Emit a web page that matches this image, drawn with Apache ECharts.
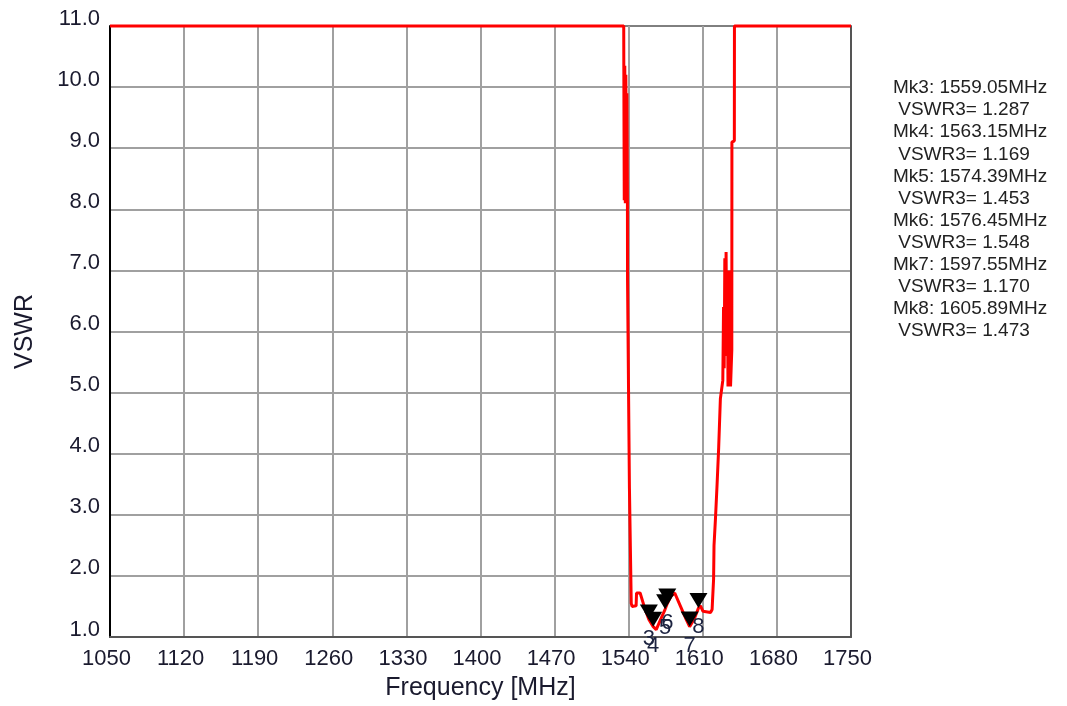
<!DOCTYPE html>
<html>
<head>
<meta charset="utf-8">
<script src="https://cdn.jsdelivr.net/npm/echarts@6/dist/echarts.min.js"></script>
<style>
html,body{margin:0;padding:0;background:#fff;}
#chart{width:1067px;height:706px;}
</style>
</head>
<body>
<div id="chart"></div>
<script>
// ---- data ----
const freqMHz = [
  1050, 1535.3, 1535.4, 1535.8, 1536.3, 1536.8, 1537.3, 1537.8, 1538.3, 1538.8,
  1538.9, 1540.5, 1540.7, 1542.2, 1542.4, 1543.2, 1547.0, 1547.4, 1550.8, 1555.0,
  1559.05, 1563.15, 1566.0, 1570.0, 1574.39, 1576.45, 1580.0, 1583.5, 1587.0, 1591.0,
  1594.5, 1597.55, 1599.0, 1602.0, 1605.89, 1607.8, 1610.2, 1617.3, 1618.8, 1619.2,
  1620.2, 1620.6, 1622.0, 1623.5, 1625.0, 1626.6, 1628.9, 1629.6, 1630.2, 1630.8,
  1631.4, 1632.0, 1632.6, 1633.2, 1633.8, 1634.4, 1635.0, 1635.6, 1636.2, 1636.8,
  1637.4, 1637.5, 1639.8, 1639.9, 1750
];
const vswr = [
  11, 11, 10.3, 8.15, 10.35, 8.1, 10.2, 8.2, 9.9, 8.1,
  6.84, 6.82, 3.43, 3.40, 1.55, 1.50, 1.51, 1.72, 1.72, 1.48,
  1.287, 1.169, 1.12, 1.28, 1.453, 1.548, 1.67, 1.72, 1.58, 1.42,
  1.28, 1.17, 1.18, 1.30, 1.473, 1.51, 1.42, 1.40, 1.45, 1.60,
  1.95, 2.5, 2.95, 3.5, 4.1, 4.9, 5.2, 6.4, 5.4, 7.2,
  5.6, 7.3, 5.6, 7.0, 5.1, 6.8, 5.3, 7.0, 5.1, 5.4,
  5.7, 9.1, 9.12, 11, 11
];
const markerIds = ['3', '4', '5', '6', '7', '8'];
const markerFreqMHz = [1559.05, 1563.15, 1574.39, 1576.45, 1597.55, 1605.89];
const markerVswr = [1.287, 1.169, 1.453, 1.548, 1.170, 1.473];
const xMin = 1050, xMax = 1750, xStep = 70;
const yMin = 1, yMax = 11, yStep = 1;

// ---- chart ----
const FONT = 'Liberation Sans, Arial, sans-serif';
const TXT = '#1a1a2e';
const chart = echarts.init(document.getElementById('chart'), null, {renderer: 'canvas'});

const legendText = markerIds.map((id, i) =>
  'Mk' + id + ': ' + markerFreqMHz[i].toFixed(2) + 'MHz\n VSWR3= ' + markerVswr[i].toFixed(3)
).join('\n');

const option = {
  animation: false,
  backgroundColor: '#fff',
  grid: {
    left: 110, right: 216, top: 26, bottom: 69,
    show: true, borderColor: '#000', borderWidth: 1, backgroundColor: '#fff'
  },
  xAxis: {
    type: 'value', min: xMin, max: xMax, interval: xStep,
    name: 'Frequency [MHz]', nameLocation: 'middle', nameGap: 39,
    nameTextStyle: {fontFamily: FONT, fontSize: 25, color: TXT},
    axisLine: {show: true, onZero: false, lineStyle: {color: '#555', width: 2}},
    axisTick: {show: false},
    axisLabel: {fontFamily: FONT, fontSize: 22, color: TXT, margin: 11, padding: [0, 7, 0, 0],
      formatter: v => String(v)},
    splitLine: {show: true, showMinLine: false, showMaxLine: false, lineStyle: {color: '#a0a0a0', width: 2}}
  },
  yAxis: [{
    type: 'value', min: yMin, max: yMax, interval: yStep,
    name: 'VSWR', nameLocation: 'middle', nameGap: 72, nameRotate: 90,
    nameTextStyle: {fontFamily: FONT, fontSize: 25, color: TXT},
    axisLine: {show: true, onZero: false, lineStyle: {color: '#000', width: 2}},
    axisTick: {show: false},
    axisLabel: {fontFamily: FONT, fontSize: 22, color: TXT, margin: 10,
      verticalAlign: 'bottom', lineHeight: 15,
      formatter: v => v.toFixed(1)},
    splitLine: {show: true, showMinLine: false, showMaxLine: false, lineStyle: {color: '#a0a0a0', width: 2}}
  }, {
    type: 'value', min: yMin, max: yMax, interval: yStep, position: 'right',
    axisLine: {show: true, onZero: false, lineStyle: {color: '#555', width: 2}},
    axisTick: {show: false}, axisLabel: {show: false}, splitLine: {show: false}
  }],
  series: [{
    type: 'line',
    data: freqMHz.map((f, i) => [f, vswr[i]]),
    showSymbol: false,
    clip: false,
    lineStyle: {color: '#ff0000', width: 3},
    itemStyle: {color: '#ff0000'},
    markPoint: {
      symbol: 'path://M0,0 L16,0 L8,14 Z',
      symbolSize: [18, 15],
      symbolOffset: [0, '-50%'],
      itemStyle: {color: '#000'},
      label: {show: true, position: 'bottom', distance: 8, formatter: p => p.name,
        fontFamily: FONT, fontSize: 22, color: '#1c2340'},
      data: markerIds.map((id, i) => ({name: id, coord: [markerFreqMHz[i], markerVswr[i]]}))
    }
  }],
  graphic: [{
    type: 'text', left: 893, top: 77,
    style: {text: legendText, fontFamily: FONT, fontSize: 19, lineHeight: 22.1, fill: '#222'}
  }]
};
chart.setOption(option);
</script>
</body>
</html>
